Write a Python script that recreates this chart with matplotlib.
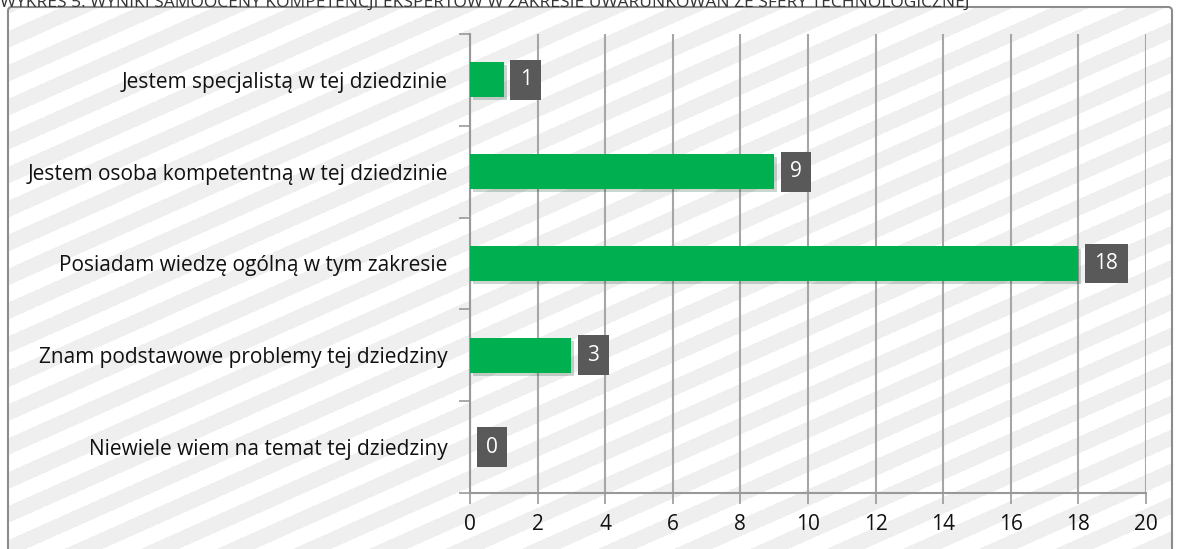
import numpy as np
import matplotlib
matplotlib.use('Agg')
import matplotlib.pyplot as plt
from matplotlib.patches import FancyBboxPatch
import matplotlib.patheffects as pe

# Dane wykresu
kategorie = ['Jestem specjalistą w tej dziedzinie',
             'Jestem osoba kompetentną w tej dziedzinie',
             'Posiadam wiedzę ogólną w tym zakresie',
             'Znam podstawowe problemy tej dziedziny',
             'Niewiele wiem na temat tej dziedziny']
wartosci = [1, 9, 18, 3, 0]
tytul = 'WYKRES 5. WYNIKI SAMOOCENY KOMPETENCJI EKSPERTÓW W ZAKRESIE UWARUNKOWAŃ ZE SFERY TECHNOLOGICZNEJ'

plt.rcParams['font.family'] = ['Open Sans', 'DejaVu Sans']

W, H = 1177, 549
fig = plt.figure(figsize=(W / 100, H / 100), dpi=100)

# Tlo w paski
bg = fig.add_axes([0, 0, 1, 1])
bg.set_xlim(0, W)
bg.set_ylim(H, 0)
bg.axis('off')
yy, xx = np.mgrid[0:H, 0:W]
ang = np.deg2rad(24)
t = (xx * np.sin(ang) + yy * np.cos(ang)) / 31.0
paski = np.where((t % 1) < 0.5, 0.94, 1.0)
img = np.dstack([paski, paski, paski])
bg.imshow(img, extent=(0, W, H, 0), interpolation='bilinear', zorder=0)
# bialy obszar poza ramka
bg.add_patch(plt.Rectangle((0, 0), W, 7, color='white', zorder=1))
bg.add_patch(plt.Rectangle((0, 0), 8, H, color='white', zorder=1))
bg.add_patch(plt.Rectangle((1172, 0), 10, H, color='white', zorder=1))
bg.add_patch(FancyBboxPatch((8, 7), 1164, 560, boxstyle='round,pad=0,rounding_size=4',
                            fc='none', ec='#8c8c8c', lw=1.5, zorder=2))
fig.text(0.0, 0.998, tytul, ha='left', va='center', fontsize=12.5, color='#333333')

ax = fig.add_axes([470 / W, 1 - 493 / H, (1146 - 470) / W, (493 - 34) / H])
ax.patch.set_alpha(0)
y = np.arange(len(kategorie))
bary = ax.barh(y, wartosci, height=0.38, color='#00b050', zorder=3)
for b in bary:
    b.set_path_effects([pe.SimplePatchShadow(offset=(2, -2), alpha=0.2), pe.Normal()])

for yi, v in zip(y, wartosci):
    ax.annotate(str(v), xy=(v, yi), xytext=(11.5, 0), textcoords='offset points',
                ha='left', va='center', fontsize=15, color='white', zorder=5,
                bbox=dict(boxstyle='square,pad=0.45', fc='#595959', ec='none'))

ax.set_xlim(0, 20)
ax.set_ylim(len(kategorie) - 0.5, -0.5)
ax.set_xticks(range(0, 21, 2))
ax.set_yticks(y)
ax.set_yticklabels(kategorie)
ax.set_yticks(np.arange(-0.5, len(kategorie), 1), minor=True)
ax.tick_params(axis='y', which='major', length=0, pad=16, labelsize=15, labelcolor='#111111')
ax.tick_params(axis='y', which='minor', length=8, color='#999999', width=1.2)
ax.tick_params(axis='x', length=8, color='#999999', width=1.2, pad=7, labelsize=15, labelcolor='#111111')
ax.grid(axis='x', color='#a6a6a6', lw=1.5, zorder=1)
for s in ['top', 'right']:
    ax.spines[s].set_visible(False)
for s in ['left', 'bottom']:
    ax.spines[s].set_color('#999999')
    ax.spines[s].set_linewidth(1.5)

fig.savefig('out.png', dpi=100)
